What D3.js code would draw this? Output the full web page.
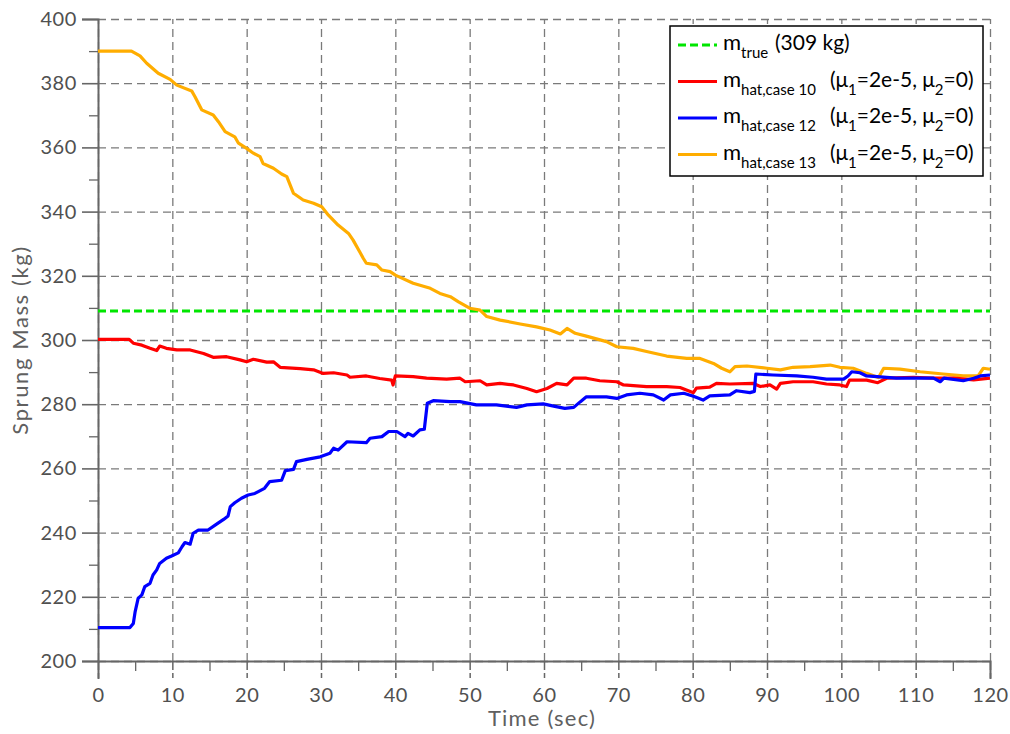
<!DOCTYPE html>
<html>
<head>
<meta charset="utf-8">
<script src="https://cdn.jsdelivr.net/npm/d3@7"></script>
<style>
  html, body { margin: 0; padding: 0; background: #fff; }
  svg { display: block; font-family: Lato, "Open Sans", sans-serif; }
</style>
</head>
<body>
<svg id="chart" width="1010" height="734"></svg>
<script>
// Sprung-mass estimates over time, [time (s), mass (kg)]
const trueMass = 309;

const case10 = [[0,300.2],[4.2,300.2],[4.75,299],[5.9,298.4],[7,297.4],[7.9,296.7],[8.3,298.1],[9.2,297.4],[10.6,296.9],[12.4,296.9],[14.2,295.8],[15.5,294.6],[17.3,294.8],[19.1,293.8],[20,293.2],[20.9,294],[22.7,293.1],[23.6,293.2],[24.5,291.5],[27.2,291.1],[29,290.7],[30.3,289.6],[31.7,289.8],[33.5,289.1],[33.9,288.4],[36.1,288.8],[37.9,288],[39.5,287.5],[39.7,286],[40,288.8],[42.4,288.6],[44.2,288.1],[46.9,287.8],[48.7,288.1],[49.4,287],[51.4,287.3],[52.3,286],[54.1,286.5],[55.9,286],[57.7,284.9],[59,283.9],[60.4,284.9],[61.7,286.5],[63.1,286],[64,288.1],[65.7,288.1],[67.5,287.3],[69.8,287],[70.7,286],[73.8,285.5],[76.5,285.5],[78.3,285.2],[80.1,283.6],[80.5,285],[82.3,285.3],[83.2,286.5],[85,286.3],[88.1,286.5],[89.1,285.5],[90.4,286],[91.3,284.7],[91.8,286.5],[93.5,287],[96.2,287],[98,286.3],[99.8,286],[100.7,285.5],[101.1,287.5],[103.4,287.5],[104.9,286.7],[106.1,288.1],[109.7,288.4],[112.4,288.1],[115.1,288.1],[117.8,287.6],[120,288.1]];

const case12 = [[0,210.4],[4.3,210.4],[4.75,211.7],[5,215.4],[5.4,219.5],[5.9,220.6],[6.3,223.2],[7,224.2],[7.4,226.8],[7.9,228.4],[8.3,230.4],[9.2,232],[9.9,232.7],[10.8,233.7],[11.3,235.6],[11.7,236.9],[12.4,236.4],[12.8,239.8],[13.5,240.8],[14.8,240.8],[16,242.7],[16.9,244.1],[17.5,245.2],[17.8,248.1],[18.4,249.3],[19.3,250.7],[20.2,251.7],[21.1,252.2],[21.5,252.7],[22.4,253.8],[23.1,255.9],[24.7,256.3],[25.2,259.3],[26.3,259.7],[26.7,262.1],[28.1,262.8],[29.9,263.6],[31.2,264.7],[31.7,266.3],[32.3,265.7],[33.5,268.3],[36.1,268],[36.6,269.4],[38.2,269.9],[39.1,271.5],[40.2,271.5],[41.3,269.9],[41.7,270.9],[42.4,270.1],[43.3,272],[43.9,272.2],[44.3,280.3],[45.1,281.1],[47.4,280.8],[48.7,280.8],[50.9,279.8],[53.6,279.8],[56.3,279],[57.7,279.8],[59.9,280.1],[61.3,279.4],[62.8,278.7],[64,279],[64.9,280.8],[65.7,282.3],[68.4,282.3],[69.8,281.8],[71.1,282.9],[72.9,283.4],[74.7,282.9],[76.1,281.3],[77,282.9],[78.8,283.4],[80.1,282.5],[81.4,281.3],[82.3,282.6],[85,282.9],[85.9,284.2],[87.7,283.6],[88.3,284],[88.5,289.4],[90.8,289.1],[94,288.8],[96.2,288.4],[98,287.8],[100.3,287.8],[100.9,288.8],[101.4,290.1],[102.5,289.8],[103.4,288.8],[104.8,288.6],[107.4,288.1],[109.7,288.1],[112.4,288.1],[113.3,287],[113.8,288.1],[116.4,287.3],[117.8,288.1],[118.7,288.8],[120,289.1]];

const case13 = [[0,390],[4.5,390],[5.65,388.5],[6.55,386.2],[8.1,383.1],[9.7,381.2],[10.6,379.4],[12.6,377.6],[13.05,375.8],[13.95,371.7],[15.5,370.1],[16.2,368],[17.1,364.9],[18.4,363.3],[18.9,361.3],[20,359.7],[20.9,358.2],[21.8,357.1],[22.2,355],[23.6,353.5],[24.7,351.7],[25.4,350.9],[26.3,345.7],[27.6,343.6],[29,342.6],[30.1,341.5],[31,338.9],[32.3,335.8],[33.7,333.2],[34.3,331.2],[35.2,327.5],[35.7,325.4],[36.1,323.9],[37.5,323.4],[38.2,321.8],[39.3,321.3],[40,320.2],[42.4,317.7],[44.7,316.1],[46,314.5],[47.4,313.5],[48.5,311.9],[50,309.9],[51.4,309.3],[52.3,307.3],[54.1,306.2],[56.8,305],[59,304.1],[60.8,303.1],[62.2,301.9],[63.1,303.6],[64.2,302.1],[65.7,301.2],[68.4,299.5],[69.8,297.9],[72,297.4],[73.8,296.4],[76.5,295],[79.2,294.3],[80.9,294.3],[82.8,292.7],[83.9,291.2],[85,290.1],[85.7,291.7],[87.3,291.9],[90,291.2],[91.8,290.7],[93.5,291.5],[95.8,291.7],[98.5,292.2],[99.8,291.5],[101.6,291.2],[103.4,289.6],[105,288.3],[105.7,291.2],[107.9,290.9],[110.6,290.1],[113.7,289.4],[116.4,288.8],[118.4,288.8],[119.1,291.2],[120,290.9]];

const xTicks = [0,10,20,30,40,50,60,70,80,90,100,110,120];
const xMinorTicks = [5,15,25,35,45,55,65,75,85,95,105,115];
const yTicks = [200,220,240,260,280,300,320,340,360,380,400];
const yMinorTicks = [210,230,250,270,290,310,330,350,370,390];

const svg = d3.select("#chart");
const plotLeft = 98, plotRight = 990, plotTop = 19, plotBottom = 661;

const x = d3.scaleLinear().domain([0, 120]).range([plotLeft, plotRight]);
const y = d3.scaleLinear().domain([200, 400]).range([plotBottom, plotTop]);

const axisColor = "#666";
const gridColor = "#7a7a7a";
const labelFont = "Lato, sans-serif";

// Horizontal grid
const gy = svg.append("g").attr("transform", `translate(${plotLeft},0)`)
  .call(d3.axisLeft(y).tickValues(yTicks).tickSize(-(plotRight - plotLeft)).tickFormat(""));
gy.select(".domain").remove();
gy.selectAll("line").attr("stroke", gridColor).attr("stroke-width", 1.3).attr("stroke-dasharray", "8,5");

// Vertical grid, continued below the x axis as dashed ticks
const gx = svg.append("g").attr("transform", `translate(0,${plotBottom})`)
  .call(d3.axisBottom(x).tickValues(xTicks).tickSize(-(plotBottom - plotTop)).tickFormat(""));
gx.select(".domain").remove();
gx.selectAll("line").attr("stroke", gridColor).attr("stroke-width", 1.3).attr("stroke-dasharray", "8,5");

// X axis: major ticks + labels
const xa = svg.append("g").attr("transform", `translate(0,${plotBottom})`)
  .call(d3.axisBottom(x).tickValues(xTicks).tickSize(18).tickPadding(9));
xa.select(".domain").attr("stroke", axisColor).attr("stroke-width", 2);
xa.selectAll("line").attr("stroke", axisColor).attr("stroke-width", 1.5).attr("stroke-dasharray", "9,3,5,1");
xa.selectAll("text").attr("fill", "#505050").attr("font-size", 20)
  .attr("font-family", labelFont).attr("letter-spacing", 0.6);

const xm = svg.append("g").attr("transform", `translate(0,${plotBottom})`)
  .call(d3.axisBottom(x).tickValues(xMinorTicks).tickSize(10).tickFormat(""));
xm.select(".domain").remove();
xm.selectAll("line").attr("stroke", axisColor).attr("stroke-width", 1.3);

// Y axis: major ticks + labels
const ya = svg.append("g").attr("transform", `translate(${plotLeft},0)`)
  .call(d3.axisLeft(y).tickValues(yTicks).tickSize(16).tickPadding(5));
ya.select(".domain").attr("stroke", axisColor).attr("stroke-width", 2);
ya.selectAll("line").attr("stroke", axisColor).attr("stroke-width", 1.6);
ya.selectAll("text").attr("fill", "#505050").attr("font-size", 20)
  .attr("font-family", labelFont).attr("letter-spacing", 0.6);

const ym = svg.append("g").attr("transform", `translate(${plotLeft},0)`)
  .call(d3.axisLeft(y).tickValues(yMinorTicks).tickSize(9).tickFormat(""));
ym.select(".domain").remove();
ym.selectAll("line").attr("stroke", axisColor).attr("stroke-width", 1.3);

// Axis titles
svg.append("text")
  .attr("x", (plotLeft + plotRight) / 2 - 2).attr("y", 726)
  .attr("text-anchor", "middle").attr("fill", "#606060").attr("font-size", 22)
  .attr("letter-spacing", 1.2)
  .text("Time (sec)");
svg.append("text")
  .attr("transform", `translate(28,${(plotTop + plotBottom) / 2}) rotate(-90)`)
  .attr("text-anchor", "middle").attr("fill", "#606060").attr("font-size", 22)
  .attr("letter-spacing", 1.6)
  .text("Sprung Mass (kg)");

// Data lines
const line = d3.line().x(d => x(d[0])).y(d => y(d[1]));
const plot = svg.append("g");

plot.append("path")
  .datum([[0, trueMass], [120, trueMass]])
  .attr("d", line).attr("fill", "none")
  .attr("stroke", "#00e600").attr("stroke-width", 3).attr("stroke-dasharray", "8,4");

const series = [
  { data: case10, color: "#ff0000" },
  { data: case12, color: "#0000ff" },
  { data: case13, color: "#ffad00" }
];
// orange first so red/blue sit on top where they cross
[series[2], series[0], series[1]].forEach(s => {
  plot.append("path").datum(s.data).attr("d", line)
    .attr("fill", "none").attr("stroke", s.color)
    .attr("stroke-width", 3.2).attr("stroke-linejoin", "round");
});

// Legend
const lg = svg.append("g");
lg.append("rect").attr("x", 670).attr("y", 26).attr("width", 313).attr("height", 150)
  .attr("fill", "#fff").attr("stroke", "#000").attr("stroke-width", 1.5);

const legendRows = [
  { color: "#00e600", dash: "8,4", sub: "true", tail: null },
  { color: "#ff0000", dash: null, sub: "hat,case 10", tail: true },
  { color: "#0000ff", dash: null, sub: "hat,case 12", tail: true },
  { color: "#ffad00", dash: null, sub: "hat,case 13", tail: true }
];
legendRows.forEach((r, i) => {
  const cy = 45 + i * 36.5;
  lg.append("line").attr("x1", 678).attr("x2", 717).attr("y1", cy).attr("y2", cy)
    .attr("stroke", r.color).attr("stroke-width", 3)
    .attr("stroke-dasharray", r.dash);
  const t = lg.append("text").attr("x", 723).attr("y", cy + 5)
    .attr("fill", "#000").attr("font-size", 22);
  t.append("tspan").text("m");
  t.append("tspan").attr("font-size", 15).attr("dy", 8).text(r.sub);
  if (r.tail) {
    const u = lg.append("text").attr("x", 830).attr("y", cy + 5)
      .attr("fill", "#000").attr("font-size", 21);
    u.append("tspan").text("(μ");
    u.append("tspan").attr("font-size", 15).attr("dy", 8).text("1");
    u.append("tspan").attr("dy", -8).text("=2e-5, μ");
    u.append("tspan").attr("font-size", 15).attr("dy", 8).text("2");
    u.append("tspan").attr("dy", -8).text("=0)");
  } else {
    lg.append("text").attr("x", 775).attr("y", cy + 5)
      .attr("fill", "#000").attr("font-size", 21).text("(309 kg)");
  }
});
</script>
</body>
</html>
